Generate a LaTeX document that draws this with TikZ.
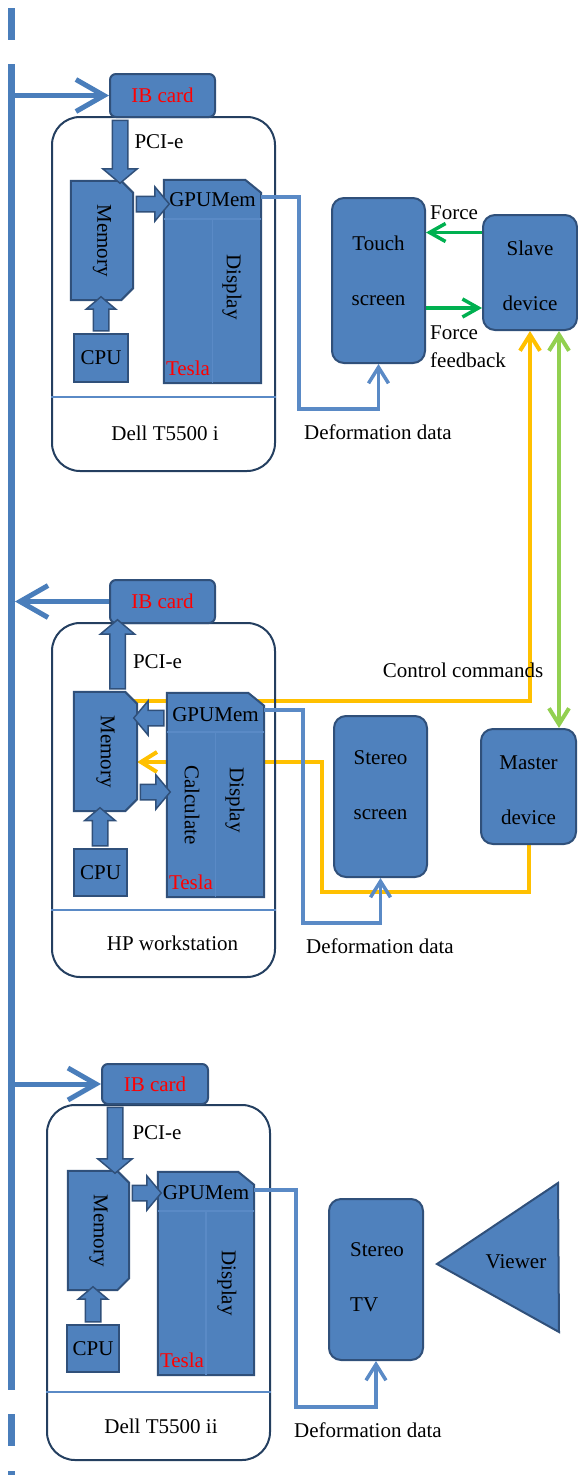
\documentclass[tikz,border=0pt]{standalone}
\usepackage{fontspec}
\setmainfont{Liberation Serif}
\usetikzlibrary{arrows.meta,positioning,shapes.arrows,backgrounds}
\definecolor{blkfill}{HTML}{4F81BD}
\definecolor{blkedge}{HTML}{30507A}
\definecolor{framenavy}{HTML}{243F60}
\definecolor{busblue}{HTML}{4A7EBB}
\definecolor{flowblue}{HTML}{5A8AC6}
\definecolor{sepblue}{HTML}{5A8AC6}
\definecolor{ctrlyellow}{HTML}{FFC000}
\definecolor{forcegreen}{HTML}{00B050}
\definecolor{linkgreen}{HTML}{92D050}
\definecolor{teslared}{HTML}{FF0000}

% snipped outlines drawn round an empty named node
\newcommand\snipmem[1]{%
  \filldraw[blk] (#1.north west) -- ([xshift=-12pt]#1.north east) -- ([yshift=-12pt]#1.north east)
    -- ([yshift=12pt]#1.south east) -- ([xshift=-12pt]#1.south east) -- (#1.south west) -- cycle;}
\newcommand\snipgpu[1]{%
  \filldraw[blk] (#1.north west) -- ([xshift=-16pt]#1.north east) -- ([yshift=-13pt]#1.north east)
    -- (#1.south east) -- (#1.south west) -- cycle;
  \draw[sep] ([yshift=-39pt]#1.north west) -- ([yshift=-39pt]#1.north east);
  \draw[sep] ([yshift=-39pt]#1.north) -- (#1.south);}

\begin{document}
\begin{tikzpicture}[
  x=1pt,y=-1pt,
  font=\fontsize{21}{25}\selectfont,
  blk/.style={fill=blkfill,draw=blkedge,line width=2pt},
  slot/.style={rectangle,inner sep=0pt},
  card/.style={blk,rectangle,rounded corners=6pt,text=teslared,inner sep=0pt},
  unit/.style={blk,rectangle,rounded corners=12pt,inner sep=0pt},
  chip/.style={blk,rectangle,inner sep=0pt},
  station/.style={rectangle,draw=framenavy,line width=2pt,rounded corners=28pt,inner sep=0pt},
  sep/.style={draw=sepblue,line width=1.5pt},
  fat/.style={single arrow,fill=blkfill,draw=blkedge,line width=1.5pt,inner xsep=0pt,inner ysep=7pt,
              single arrow head extend=9.5pt,single arrow tip angle=100},
  busline/.style={draw=busblue,line width=7pt},
  busarrow/.style={draw=busblue,line width=5pt,-{Straight Barb[length=28pt,width=32pt]}},
  defo/.style={draw=flowblue,line width=3.5pt,-{Straight Barb[length=16pt,width=20pt]}},
  ctrl/.style={draw=ctrlyellow,line width=4pt,-{Straight Barb[length=16pt,width=20pt]}},
  force/.style={draw=forcegreen,line width=3.5pt,-{Straight Barb[length=16pt,width=18pt]}},
  link/.style={draw=linkgreen,line width=4pt,
               {Straight Barb[length=16pt,width=20pt]}-{Straight Barb[length=16pt,width=20pt]}},
  two/.style={align=center,font=\fontsize{21}{55}\selectfont},
  tesla/.style={text=teslared,anchor=base west,inner sep=0pt},
  vert/.style={rotate=-90},
]
\useasboundingbox (0,0) rectangle (578,1475);

% infiniband bus
\foreach \a/\b in {8/40,64/1390,1414/1446,1471/1480}
  \draw[busline] (11,\a) -- (11,\b);
\coordinate (bus) at (11,0);
\coordinate (busr) at (15,0);

% Dell T5500 i
\node[station,minimum width=223pt,minimum height=354pt] (ws1) at (163.5,294) {};
\draw[sep] ([yshift=75pt]ws1.south west) -- ([yshift=75pt]ws1.south east);
\node (ws1lbl) at (165,433) {Dell T5500 i};
\node[card,minimum width=105pt,minimum height=43pt] (ib1) at (162.5,95.5) {IB card};
\node[slot,minimum width=62pt,minimum height=119pt] (mem1) at (102,240.5) {};
\snipmem{mem1}
\node[vert] (mem1lbl) at (mem1) {Memory};
\node[slot,minimum width=97pt,minimum height=203pt] (gpu1) at (212.5,281.5) {};
\snipgpu{gpu1}
\node (gpu1mem) at ([yshift=-20pt]gpu1.north) {GPUMem};
\node[vert] (gpu1disp) at (232,287) {Display};
\node[tesla] (gpu1tesla) at ([shift={(2pt,8pt)}]gpu1.south west) {Tesla};
\node[chip,minimum width=54pt,minimum height=48pt] (cpu1) at (101,358) {CPU};
\node[fat,rotate=-90,minimum height=63pt] (pci1) at (120,148.5) {};
\node (pci1lbl) at (159,142) {PCI-e};
\node[fat,minimum height=33pt] (m2g1) at (149.5,204) {};
\node[fat,rotate=90,minimum height=34pt,single arrow head extend=7pt] (c2m1) at (101,317) {};
\draw[busarrow] (bus |- ib1.west) -- (ib1.west);

% HP workstation
\node[station,minimum width=223pt,minimum height=354pt] (ws2) at (163.5,800) {};
\draw[sep] ([yshift=68pt]ws2.south west) -- ([yshift=68pt]ws2.south east);
\node (ws2lbl) at (172.5,943) {HP workstation};
\node[card,minimum width=105pt,minimum height=43pt] (ib2) at (162.5,601.5) {IB card};
\node[slot,minimum width=63pt,minimum height=119pt] (mem2) at (105.5,751.5) {};
\snipmem{mem2}
\node[vert] (mem2lbl) at (mem2) {Memory};
\node[slot,minimum width=97pt,minimum height=204pt] (gpu2) at (215.5,795) {};
\snipgpu{gpu2}
\node (gpu2mem) at ([yshift=-22pt]gpu2.north) {GPUMem};
\node[vert] (gpu2calc) at (192,805) {Calculate};
\node[vert] (gpu2disp) at (235,800) {Display};
\node[tesla] (gpu2tesla) at ([shift={(2pt,8pt)}]gpu2.south west) {Tesla};
\node[chip,minimum width=53pt,minimum height=47pt] (cpu2) at (100.5,872.5) {CPU};
\node[fat,rotate=90,minimum height=69pt] (pci2) at (117.5,657.5) {};
\node (pci2lbl) at (157.5,662) {PCI-e};
\node[fat,rotate=180,minimum height=30pt] (g2m2) at (152,718) {};
\node[fat,minimum height=30pt] (m2g2) at (152,792) {};
\node[fat,rotate=90,minimum height=38pt,single arrow head extend=7.5pt] (c2m2) at (100,830) {};
\draw[busarrow] (ib2.west) -- (busr |- ib2.west);

% Dell T5500 ii
\node[station,minimum width=223pt,minimum height=355pt] (ws3) at (158.5,1282.5) {};
\draw[sep] ([yshift=69pt]ws3.south west) -- ([yshift=69pt]ws3.south east);
\node (ws3lbl) at (161,1426) {Dell T5500 ii};
\node[card,minimum width=106pt,minimum height=40pt] (ib3) at (155,1084) {IB card};
\node[slot,minimum width=61pt,minimum height=119pt] (mem3) at (98.5,1230.5) {};
\snipmem{mem3}
\node[vert] (mem3lbl) at (mem3) {Memory};
\node[slot,minimum width=96pt,minimum height=203pt] (gpu3) at (206,1273.5) {};
\snipgpu{gpu3}
\node (gpu3mem) at ([yshift=-21pt]gpu3.north) {GPUMem};
\node[vert] (gpu3disp) at (227,1283) {Display};
\node[tesla] (gpu3tesla) at ([shift={(2pt,8pt)}]gpu3.south west) {Tesla};
\node[chip,minimum width=52pt,minimum height=47pt] (cpu3) at (93,1348.5) {CPU};
\node[fat,rotate=-90,minimum height=66pt] (pci3) at (115,1137) {};
\node (pci3lbl) at (157,1133) {PCI-e};
\node[fat,minimum height=29pt] (m2g3) at (143.5,1193) {};
\node[fat,rotate=90,minimum height=35pt,single arrow head extend=7pt] (c2m3) at (93,1307.5) {};
\draw[busarrow] (bus |- ib3.west) -- (ib3.west);

% devices
\node[unit,minimum width=93pt,minimum height=165pt] (touch) at (378.5,280.5) {};
\node[two] (touchlbl) at ([yshift=10pt]touch) {Touch\\screen};
\node[unit,minimum width=94pt,minimum height=115pt] (slave) at (530,272.5) {};
\node[two] (slavelbl) at ([yshift=-3pt]slave) {Slave\\device};
\node[unit,minimum width=93pt,minimum height=161pt] (stereo) at (380.5,796.5) {};
\node[two] (stereolbl) at ([yshift=11.5pt]stereo) {Stereo\\screen};
\node[unit,minimum width=95pt,minimum height=115pt] (master) at (528.5,786.5) {};
\node[two] (masterlbl) at ([yshift=-3.5pt]master) {Master\\device};
\node[unit,minimum width=94pt,minimum height=161pt] (stv) at (376,1279.5) {};
\node[two,align=left,anchor=west,inner sep=0pt] (stvlbl) at (350,1277) {Stereo\\TV};
\filldraw[blk] (437,1264) -- (558,1183) -- (559,1332) -- cycle;
\node (viewer) at (516,1262) {Viewer};

% force loop
\coordinate (fb1) at ([yshift=40pt]slave.west);
\draw[force] (fb1) -- (fb1 -| touch.east);
\node[anchor=west,inner sep=0pt] (forcelbl) at (430,213) {Force};
\coordinate (fb2) at ([yshift=-27.5pt]touch.east);
\draw[force] (fb2) -- (fb2 -| slave.west);
\node[anchor=north west,inner sep=0pt,align=left,font=\fontsize{21}{28}\selectfont]
  (fblbl) at (430,326) {Force\\feedback};

% master <-> slave
\coordinate (lk) at ([xshift=29pt]slave.south);
\draw[link] (lk) -- (lk |- master.north);

% control commands
\begin{scope}[on background layer]
  \coordinate (cc1) at ([shift={(-3pt,-9pt)}]mem2.north east);
  \draw[ctrl] (cc1) -| (slave.south);
  \coordinate (mr1) at (322,892);
  \coordinate (mr2) at (322,762);
  \draw[ctrl] (master.south) -- (master.south |- mr1) -- (mr1) -- (mr2) -- (mr2 -| mem2.east);
\end{scope}
\node (ctrllbl) at (463,670) {Control commands};

% deformation data
\coordinate (dg1) at ([yshift=-17pt]gpu1.north east);
\coordinate (dk1) at (299,409);
\draw[defo] (dg1) -| (dk1) -| (touch.south);
\node (d1lbl) at (378,432) {Deformation data};
\coordinate (dg2) at ([yshift=-17pt]gpu2.north east);
\coordinate (dk2) at (303,923);
\draw[defo] (dg2) -| (dk2) -| (stereo.south);
\node (d2lbl) at (380,946) {Deformation data};
\coordinate (dg3) at ([yshift=-18pt]gpu3.north east);
\coordinate (dk3) at (296,1407);
\draw[defo] (dg3) -| (dk3) -| (stv.south);
\node (d3lbl) at (368,1430) {Deformation data};
\end{tikzpicture}
\end{document}
